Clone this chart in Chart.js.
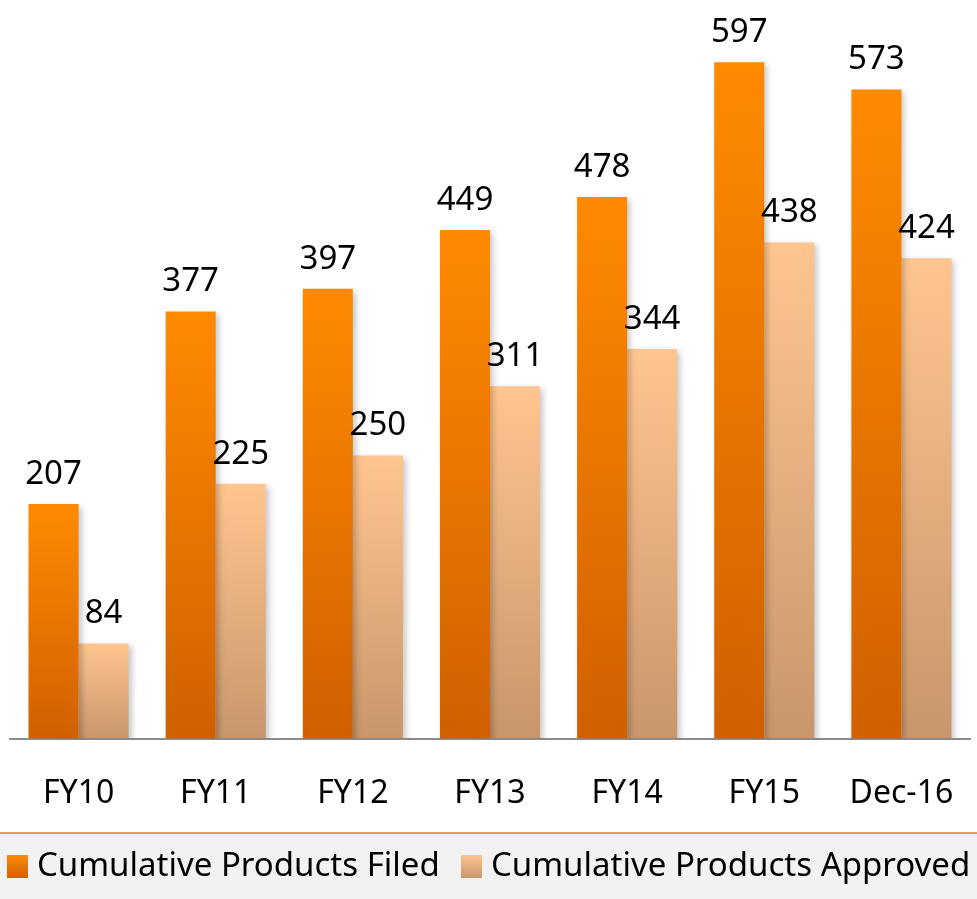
<!DOCTYPE html>
<html>
<head>
<meta charset="utf-8">
<script src="https://cdn.jsdelivr.net/npm/chart.js@4.4.1/dist/chart.umd.min.js"></script>
<style>
  html, body { margin: 0; padding: 0; background: #fff; }
  #wrap { width: 977px; height: 899px; position: relative; }
</style>
</head>
<body>
<div id="wrap"><canvas id="chart" width="977" height="899"></canvas></div>
<script>
// chart data
const categories = ['FY10', 'FY11', 'FY12', 'FY13', 'FY14', 'FY15', 'Dec-16'];
const filed = [207, 377, 397, 449, 478, 597, 573];
const approved = [84, 225, 250, 311, 344, 438, 424];
const seriesNames = ['Cumulative Products Filed', 'Cumulative Products Approved'];

const FONT = '"Noto Sans", "Open Sans", sans-serif';

// per-bar vertical gradient (light on top, darker at the base)
function barGradient(top, bottom) {
    return function(context) {
        const chart = context.chart;
        const y = chart.scales.y;
        if (!y || context.type !== 'data') return top;
        const v = context.parsed ? context.parsed.y : context.raw;
        const yTop = y.getPixelForValue(v);
        const yBase = y.getPixelForValue(0);
        if (!isFinite(yTop) || !isFinite(yBase) || yTop === yBase) return top;
        const g = chart.ctx.createLinearGradient(0, yTop, 0, yBase);
        g.addColorStop(0, top);
        g.addColorStop(1, bottom);
        return g;
    };
}

// soft drop shadow behind the bars
const barShadow = {
    id: 'barShadow',
    beforeDatasetsDraw(chart) {
        const ctx = chart.ctx;
        ctx.save();
        ctx.shadowColor = 'rgba(0,0,0,0.22)';
        ctx.shadowBlur = 6;
        ctx.shadowOffsetX = 3;
        ctx.shadowOffsetY = 3;
    },
    afterDatasetsDraw(chart) {
        chart.ctx.restore();
    }
};

// numbers above each bar
const valueLabels = {
    id: 'valueLabels',
    afterDatasetsDraw(chart) {
        const ctx = chart.ctx;
        ctx.save();
        ctx.font = '33px ' + FONT;
        ctx.fillStyle = '#000';
        ctx.textAlign = 'center';
        ctx.textBaseline = 'bottom';
        chart.data.datasets.forEach((ds, i) => {
            chart.getDatasetMeta(i).data.forEach((bar, j) => {
                ctx.fillText(String(ds.data[j]), bar.x, bar.y - 13);
            });
        });
        ctx.restore();
    }
};

// legend band at the bottom: orange rule + grey strip
const legendBand = {
    id: 'legendBand',
    afterDraw(chart) {
        const ctx = chart.ctx;
        const w = chart.width;
        ctx.save();
        ctx.fillStyle = '#f2f2f2';
        ctx.fillRect(0, 834, w, chart.height - 834);
        ctx.fillStyle = '#f4a04a';
        ctx.fillRect(0, 832, w, 2);

        const swatches = [['#ff8a0a', '#d06000'], ['#ffc590', '#c8966c']];
        const xs = [7, 461];
        ctx.font = '33px ' + FONT;
        ctx.textBaseline = 'middle';
        ctx.textAlign = 'left';
        chart.data.datasets.forEach((ds, i) => {
            const g = ctx.createLinearGradient(0, 855, 0, 878);
            g.addColorStop(0, swatches[i][0]);
            g.addColorStop(1, swatches[i][1]);
            ctx.fillStyle = g;
            ctx.fillRect(xs[i], 855, 21, 23);
            ctx.fillStyle = '#000';
            ctx.fillText(ds.label, xs[i] + 30, 867);
        });
        ctx.restore();
    }
};

new Chart(document.getElementById('chart'), {
    type: 'bar',
    data: {
        labels: categories,
        datasets: [{
            label: seriesNames[0],
            data: filed,
            backgroundColor: barGradient('#ff8a00', '#d06000'),
            borderWidth: 0
        }, {
            label: seriesNames[1],
            data: approved,
            backgroundColor: barGradient('#ffc590', '#c8966c'),
            borderWidth: 0
        }]
    },
    options: {
        responsive: false,
        animation: false,
        maintainAspectRatio: false,
        layout: {
            padding: { left: 10, right: 7, top: 0, bottom: 50 }
        },
        datasets: {
            bar: { categoryPercentage: 0.73, barPercentage: 1.0 }
        },
        plugins: {
            legend: { display: false },
            tooltip: { enabled: false }
        },
        scales: {
            x: {
                grid: { display: false, drawTicks: false },
                border: { display: true, color: '#8c8c8c', width: 2 },
                ticks: {
                    color: '#000',
                    font: { family: FONT, size: 32 },
                    padding: 36
                },
                afterFit(scale) {
                    // keep the edge labels from shrinking the plot area
                    scale.paddingLeft = 0;
                    scale.paddingRight = 0;
                }
            },
            y: {
                display: false,
                min: 0,
                max: 652
            }
        }
    },
    plugins: [barShadow, valueLabels, legendBand]
});
</script>
</body>
</html>
